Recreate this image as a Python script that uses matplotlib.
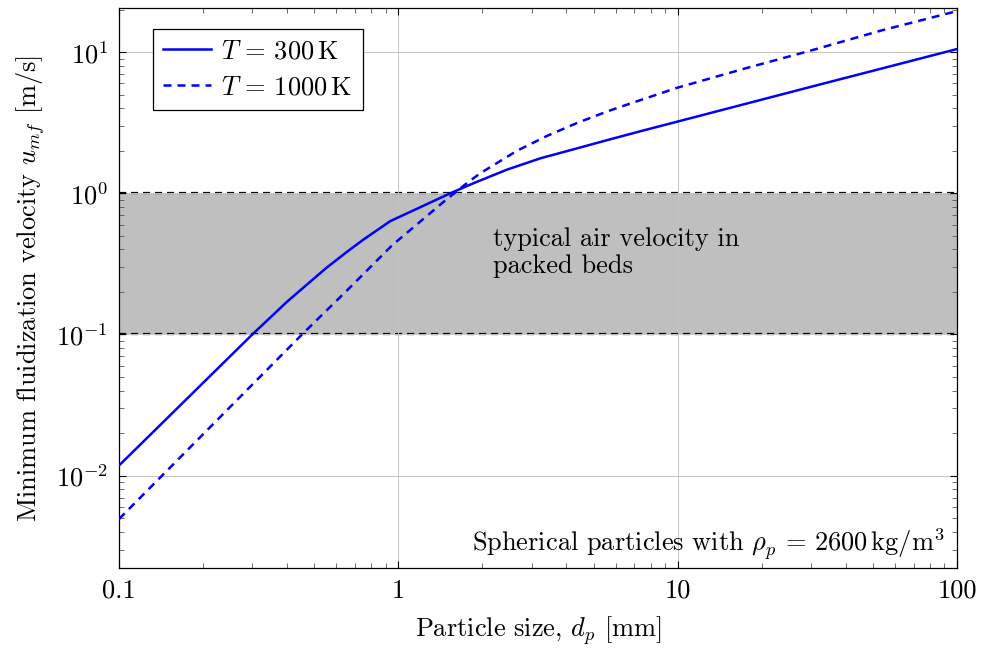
import numpy as np
import matplotlib
matplotlib.use('Agg')
import matplotlib.pyplot as plt

plt.rcParams['font.family'] = 'serif'
plt.rcParams['font.serif'] = ['cmr10']
plt.rcParams['mathtext.fontset'] = 'cm'
plt.rcParams['axes.formatter.use_mathtext'] = True

# data (particle size in mm, u_mf in m/s)
d_300 = [0.1, 0.3, 0.4, 0.55, 0.655, 0.75, 0.936, 1.535, 1.862, 2.45, 3.23,
         4.25, 5.6, 7.36, 10.0, 30.8, 100.0]
u_300 = [0.0118, 0.1, 0.171, 0.294, 0.385, 0.47, 0.635, 1.0, 1.18, 1.47, 1.77,
         2.05, 2.38, 2.75, 3.22, 5.75, 10.5]

d_1000 = [0.1, 0.452, 0.65, 0.95, 1.45, 1.76, 1.97, 2.66, 3.41, 4.37, 5.6,
          6.79, 10.0, 17.8, 30.8, 53.5, 100.0]
u_1000 = [0.00493, 0.1, 0.202, 0.428, 0.867, 1.18, 1.39, 2.0, 2.55, 3.15, 3.8,
          4.33, 5.6, 7.74, 10.4, 14.2, 19.5]

band_low = 0.1
band_high = 1.0

FS = 19

fig = plt.figure(figsize=(9.82, 6.53), dpi=100)
ax = fig.add_axes([0.1212, 0.1302, 0.8533, 0.8575])
ax.set_xscale('log')
ax.set_yscale('log')
ax.set_xlim(0.1, 100)
ax.set_ylim(0.00222, 20.5)

ax.axhspan(band_low, band_high, color='#bfbfbf', lw=0, zorder=0)
ax.grid(True, which='major', color='#c4c4c4', lw=0.7, zorder=0.5)
ax.axhline(band_low, color='black', lw=1.6, ls=(0, (3.2, 2.2)), zorder=1)
ax.axhline(band_high, color='black', lw=1.6, ls=(0, (3.2, 2.2)), zorder=1)

ax.plot(d_300, u_300, color='blue', lw=1.8, label=r'$T\,=\,300\,\mathrm{K}$', zorder=3)
ax.plot(d_1000, u_1000, color='blue', lw=1.8, ls=(0, (3.2, 2.4)),
        label=r'$T\,=\,1000\,\mathrm{K}$', zorder=3)

ax.text(2.19, 0.38, 'typical air velocity in\npacked beds', fontsize=FS,
        ha='left', va='center', linespacing=1.15)
ax.text(0.9857, 0.030, r'Spherical particles with $\rho_p\,=\,2600\,\mathrm{kg/m^3}$',
        transform=ax.transAxes, fontsize=FS, ha='right', va='baseline')

ax.set_xticks([0.1, 1, 10, 100])
ax.set_xticklabels(['0.1', '1', '10', '100'])
ax.tick_params(which='both', direction='in', top=True, right=True, labelsize=FS)
ax.tick_params(which='major', length=5, width=0.8, pad=8)
ax.tick_params(which='minor', length=3.5, width=0.6, color='#555555')
for s in ax.spines.values():
    s.set_linewidth(0.9)

ax.set_xlabel(r'Particle size, $d_p$ [mm]', fontsize=FS, labelpad=8)
ax.set_ylabel(r'Minimum fluidization velocity $u_{mf}$ [m/s]', fontsize=FS, labelpad=6)

leg = ax.legend(loc='upper left', bbox_to_anchor=(0.04, 0.962), fontsize=FS,
                frameon=True, fancybox=False, edgecolor='black', framealpha=1,
                handlelength=1.8, borderpad=0.4, labelspacing=0.45, handletextpad=0.4,
                borderaxespad=0)
leg.get_frame().set_linewidth(0.9)

fig.savefig('out.png', dpi=100)
